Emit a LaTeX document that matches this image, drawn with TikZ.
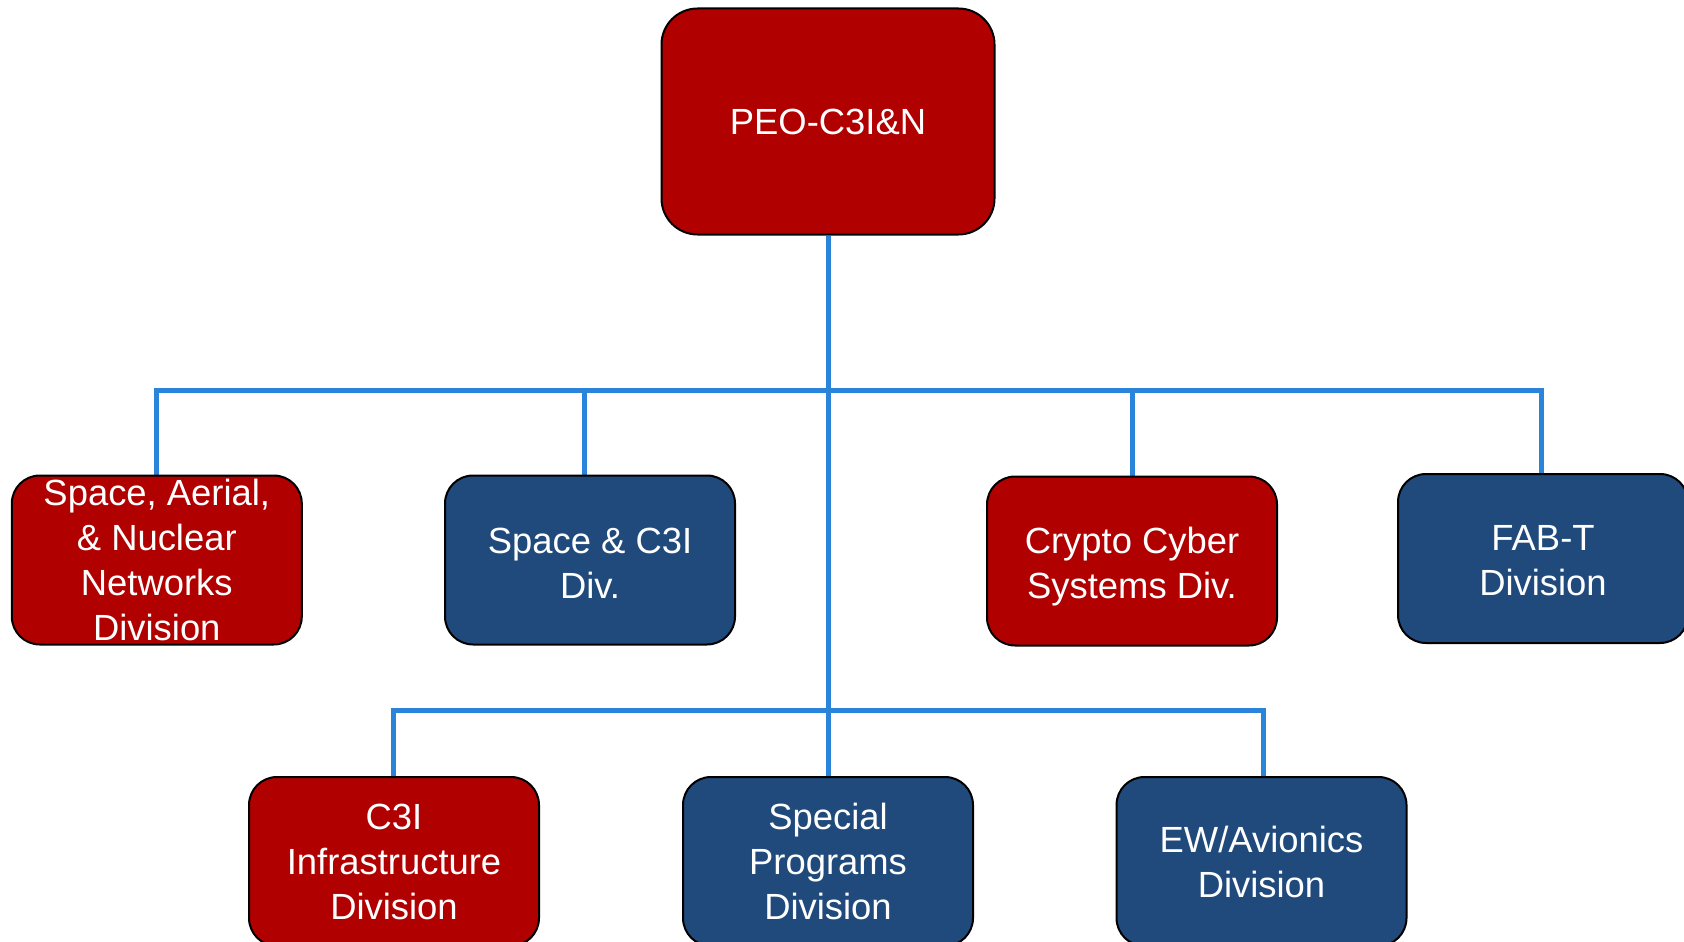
\documentclass[tikz,border=0pt]{standalone}
\usepackage{fontspec}
\setmainfont{Liberation Sans}
\usetikzlibrary{backgrounds}
\definecolor{boxred}{HTML}{B00000}
\definecolor{boxblue}{HTML}{214A7C}
\definecolor{linkblue}{HTML}{2A84D9}
\begin{document}
\begin{tikzpicture}[x=0.5pt,y=-0.5pt,
  unit/.style={draw=black,line width=1pt,rounded corners=14pt,minimum width=145pt,minimum height=84.5pt,inner sep=0pt,align=center,text=white,font=\fontsize{18.2}{22.5}\selectfont},
  redunit/.style={unit,fill=boxred},
  blueunit/.style={unit,fill=boxblue},
  link/.style={draw=linkblue,line width=2.5pt,line join=miter}]
\useasboundingbox (0,0) rectangle (1684,941);
% top
\node[redunit,minimum width=166.5pt,minimum height=113pt,rounded corners=18pt] (peo) at (828,121.5) {PEO-C3I\&N};
% row 1
\node[redunit] (san) at (156.8,560) {Space, Aerial,\\ \& Nuclear\\ Networks\\ Division};
\node[blueunit] (sc) at (590,560) {\rule{0pt}{15.5pt}Space \& C3I\\ Div.};
\node[redunit] (ccs) at (1132,561) {\rule{0pt}{18.3pt}Crypto Cyber\\ Systems Div.};
\node[blueunit] (fabt) at (1543,558.5) {\rule{0pt}{15pt}FAB-T\\ Division};
% row 2
\node[redunit] (c3i) at (394,861.5) {C3I\\ Infrastructure\\ Division};
\node[blueunit] (spd) at (828,861.5) {Special\\ Programs\\ Division};
\node[blueunit] (ew) at (1261.5,861.5) {EW/Avionics\\ Division};
\coordinate (busA) at (828.5,390.5);
\coordinate (busB) at (828.5,710.5);
\begin{scope}[on background layer]
\fill[white] (0,0) rectangle (1684,941);
\draw[link] (peo.south) -- (spd.north);
\draw[link] (san.north) -- (san.north |- busA) -- ([xshift=-0.75pt]fabt.north |- busA) -- ([xshift=-0.75pt]fabt.north);
\draw[link] ([xshift=-2.75pt]sc.north) -- ([xshift=-2.75pt]sc.north |- busA);
\draw[link] (ccs.north) -- (ccs.north |- busA);
\draw[link] ([xshift=-0.5pt]c3i.north) -- ([xshift=-0.5pt]c3i.north |- busB) -- ([xshift=1pt]ew.north |- busB) -- ([xshift=1pt]ew.north);
\end{scope}
\end{tikzpicture}
\end{document}
